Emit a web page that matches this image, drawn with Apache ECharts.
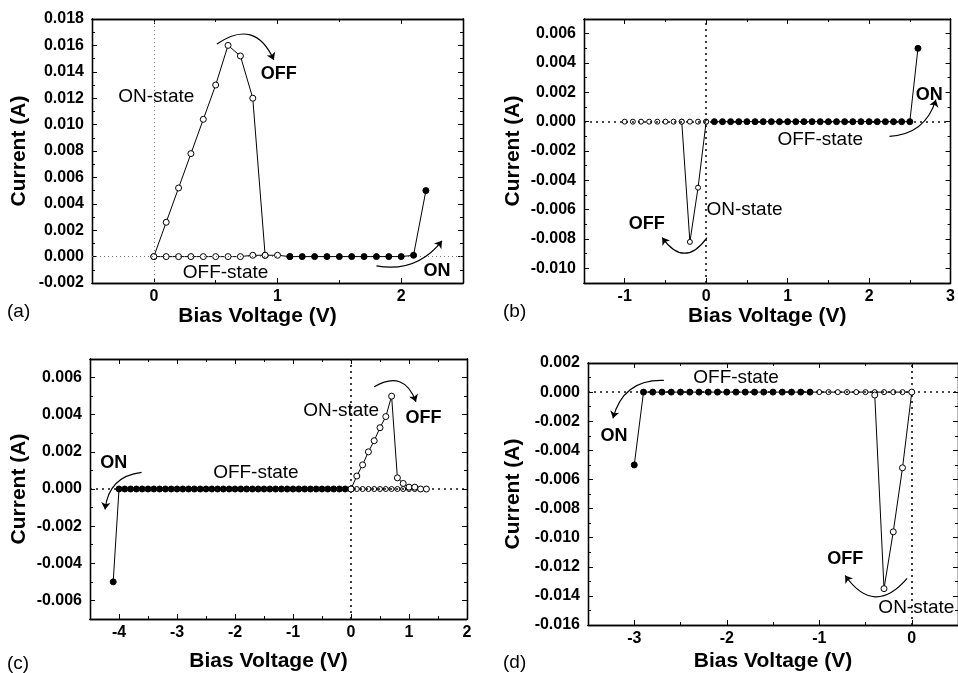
<!DOCTYPE html>
<html>
<head>
  <meta charset="utf-8">
  <title>Bias sweeps (a)-(d)</title>
  <script src="https://cdn.jsdelivr.net/npm/echarts/dist/echarts.min.js"></script>
  <style>
    html, body { margin: 0; padding: 0; background: #fff; }
    #chart { width: 958px; height: 673px; }
  </style>
</head>
<body>
  <div id="chart"></div>
  <script>
    // ---- panel (a) ----
    const aOnV = [0, 0.1, 0.2, 0.3, 0.4, 0.5, 0.6, 0.7, 0.8, 0.9];
    const aOnI = [0, 0.0026, 0.0052, 0.0078, 0.0104, 0.0130, 0.0160, 0.0152, 0.0120, 0.0001];
    // the sweep continues into the first filled point, which is drawn over it
    const aOffOpenV = [0, 0.1, 0.2, 0.3, 0.4, 0.5, 0.6, 0.7, 0.8, 0.9, 1.0, 1.1];
    const aOffOpenI = [0, 0, 0, 0, 0, 0, 0, 0, 0.0001, 0.0001, 0.0001, 0];
    const aOffFillV = [1.1, 1.2, 1.3, 1.4, 1.5, 1.6, 1.7, 1.8, 1.9, 2.0, 2.1, 2.2];
    const aOffFillI = [0, 0, 0, 0, 0, 0, 0, 0, 0, 0, 0.0001, 0.0050];
    const aXTicks = [0, 1, 2];
    const aXMinor = [0.5, 1.5];
    const aYTicks = [-0.002, 0, 0.002, 0.004, 0.006, 0.008, 0.010, 0.012, 0.014, 0.016, 0.018];
    const aYMinor = [-0.001, 0.001, 0.003, 0.005, 0.007, 0.009, 0.011, 0.013, 0.015, 0.017];
    const aNotes = [[0.02, 0.0121, 'ON-state', 'normal'], [1.01, 0.0138, 'OFF', 'bold'],
                    [0.58, -0.0012, 'OFF-state', 'normal'], [2.29, -0.0011, 'ON', 'bold']];
    const aArrows = [[0.51, 0.0161, 0.97, 0.0149, 0.6], [1.80, -0.0007, 2.33, 0.0012, -0.3]];

    // ---- panel (b) ----
    const bOnV = [0, -0.1, -0.2, -0.3];
    const bOnI = [0, -0.0045, -0.0082, 0];
    const bOffOpenV = [-1.0, -0.9, -0.8, -0.7, -0.6, -0.5, -0.4, -0.3, -0.2, -0.1, 0];
    const bOffOpenI = [0, 0, 0, 0, 0, 0, 0, 0, 0, 0, 0];
    const bOffFillV = [0.1, 0.2, 0.3, 0.4, 0.5, 0.6, 0.7, 0.8, 0.9, 1.0, 1.1, 1.2, 1.3,
                       1.4, 1.5, 1.6, 1.7, 1.8, 1.9, 2.0, 2.1, 2.2, 2.3, 2.4, 2.5, 2.6];
    const bOffFillI = [0, 0, 0, 0, 0, 0, 0, 0, 0, 0, 0, 0, 0,
                       0, 0, 0, 0, 0, 0, 0, 0, 0, 0, 0, 0, 0.0050];
    const bXTicks = [-1, 0, 1, 2, 3];
    const bXMinor = [-0.5, 0.5, 1.5, 2.5];
    const bYTicks = [-0.010, -0.008, -0.006, -0.004, -0.002, 0, 0.002, 0.004, 0.006];
    const bYMinor = [-0.011, -0.009, -0.007, -0.005, -0.003, -0.001, 0.001, 0.003, 0.005, 0.007];
    const bNotes = [[2.74, 0.0018, 'ON', 'bold'], [1.40, -0.00125, 'OFF-state', 'normal'],
                    [0.47, -0.0060, 'ON-state', 'normal'], [-0.73, -0.0070, 'OFF', 'bold']];
    const bArrows = [[2.25, -0.0010, 2.82, 0.0015, -0.35], [0.01, -0.0079, -0.54, -0.0079, 0.7]];

    // ---- panel (c) ----
    const cOffFillV = [-4.1, -4.0, -3.9, -3.8, -3.7, -3.6, -3.5, -3.4, -3.3, -3.2, -3.1, -3.0,
                       -2.9, -2.8, -2.7, -2.6, -2.5, -2.4, -2.3, -2.2, -2.1, -2.0,
                       -1.9, -1.8, -1.7, -1.6, -1.5, -1.4, -1.3, -1.2, -1.1, -1.0,
                       -0.9, -0.8, -0.7, -0.6, -0.5, -0.4, -0.3, -0.2, -0.1, 0];
    const cOffFillI = [-0.0050, 0, 0, 0, 0, 0, 0, 0, 0, 0, 0, 0,
                       0, 0, 0, 0, 0, 0, 0, 0, 0, 0,
                       0, 0, 0, 0, 0, 0, 0, 0, 0, 0,
                       0, 0, 0, 0, 0, 0, 0, 0, 0, 0];
    const cOnV = [0, 0.1, 0.2, 0.3, 0.4, 0.5, 0.6, 0.7, 0.8, 0.9, 1.0, 1.1, 1.2, 1.3];
    const cOnI = [0, 0.0007, 0.0013, 0.0020, 0.0026, 0.0033, 0.0039, 0.0050, 0.0006, 0.0003, 0.0001, 0.0001, 0, 0];
    const cOffOpenV = [0, 0.1, 0.2, 0.3, 0.4, 0.5, 0.6, 0.7, 0.8, 0.9, 1.0, 1.1, 1.2, 1.3];
    const cOffOpenI = [0, 0, 0, 0, 0, 0, 0, 0, 0, 0, 0, 0, 0, 0];
    const cXTicks = [-4, -3, -2, -1, 0, 1, 2];
    const cXMinor = [-3.5, -2.5, -1.5, -0.5, 0.5, 1.5];
    const cYTicks = [-0.006, -0.004, -0.002, 0, 0.002, 0.004, 0.006];
    const cYMinor = [-0.005, -0.003, -0.001, 0.001, 0.003, 0.005];
    const cNotes = [[-0.17, 0.0042, 'ON-state', 'normal'], [1.25, 0.0038, 'OFF', 'bold'],
                    [-4.09, 0.0014, 'ON', 'bold'], [-1.64, 0.0009, 'OFF-state', 'normal']];
    const cArrows = [[0.40, 0.0055, 1.12, 0.0047, 0.6], [-3.61, 0.0009, -4.24, -0.0011, -0.4]];

    // ---- panel (d) ----
    const dOffFillV = [-3.0, -2.9, -2.8, -2.7, -2.6, -2.5, -2.4, -2.3, -2.2, -2.1, -2.0,
                       -1.9, -1.8, -1.7, -1.6, -1.5, -1.4, -1.3, -1.2, -1.1];
    const dOffFillI = [-0.0050, 0, 0, 0, 0, 0, 0, 0, 0, 0, 0,
                       0, 0, 0, 0, 0, 0, 0, 0, 0];
    // starts at the last filled point so the sweep stays joined
    const dOffOpenV = [-1.1, -1.0, -0.9, -0.8, -0.7, -0.6, -0.5, -0.4, -0.3, -0.2, -0.1, 0];
    const dOffOpenI = [0, 0, 0, 0, 0, 0, 0, 0, 0, 0, 0, 0];
    const dOnV = [0, -0.1, -0.2, -0.3, -0.4];
    const dOnI = [0, -0.0052, -0.0096, -0.0135, -0.0002];
    const dXTicks = [-3, -2, -1, 0];
    const dXMinor = [-2.5, -1.5, -0.5];
    const dYTicks = [-0.016, -0.014, -0.012, -0.010, -0.008, -0.006, -0.004, -0.002, 0, 0.002];
    const dYMinor = [-0.015, -0.013, -0.011, -0.009, -0.007, -0.005, -0.003, -0.001, 0.001];
    const dNotes = [[-1.90, 0.0010, 'OFF-state', 'normal'], [-3.22, -0.0030, 'ON', 'bold'],
                    [-0.72, -0.0115, 'OFF', 'bold'], [0.05, -0.0148, 'ON-state', 'normal']];
    const dArrows = [[-2.68, 0.0008, -3.23, -0.0018, -0.4], [-0.05, -0.0128, -0.72, -0.0126, 0.64]];

    const FONT = '"Liberation Sans", Arial, sans-serif';
    const pair = (v, c) => v.map((x, k) => [x, c[k]]);

    const dottedThin = { color: '#777', width: 1, type: [1, 3] };
    const dottedBold = { color: '#111', width: 1.6, type: [2, 4] };

    const panels = [
      { grid: { left: 92, top: 19, width: 371, height: 264 },
        xRange: [-0.5, 2.5], yRange: [-0.002, 0.018],
        xTicks: aXTicks, xMinor: aXMinor, yTicks: aYTicks, yMinor: aYMinor,
        xNameGap: 21, xShift: 40, yNameGap: 62, ref: dottedThin,
        curves: [
          { d: pair(aOnV, aOnI), open: true, size: 6 },
          { d: pair(aOffOpenV, aOffOpenI), open: true, size: 6 },
          { d: pair(aOffFillV, aOffFillI), open: false, size: 6 }
        ], notes: aNotes, arrows: aArrows },
      { grid: { left: 584, top: 19, width: 377, height: 264 },
        xRange: [-1.5, 3], yRange: [-0.011, 0.007],
        xTicks: bXTicks, xMinor: bXMinor, yTicks: bYTicks, yMinor: bYMinor,
        xNameGap: 21, xShift: 0, yNameGap: 60, ref: dottedBold,
        curves: [
          { d: pair(bOffOpenV, bOffOpenI), open: true, size: 5, scatter: true },
          { d: pair(bOnV, bOnI), open: true, size: 5 },
          { d: pair(bOffFillV, bOffFillI), open: false, size: 6 }
        ], notes: bNotes, arrows: bArrows },
      { grid: { left: 90, top: 359, width: 377, height: 263 },
        xRange: [-4.5, 2], yRange: [-0.007, 0.007],
        xTicks: cXTicks, xMinor: cXMinor, yTicks: cYTicks, yMinor: cYMinor,
        xNameGap: 32, xShift: 20, yNameGap: 60, ref: dottedBold,
        curves: [
          { d: pair(cOffFillV, cOffFillI), open: false, size: 6 },
          { d: pair(cOffOpenV, cOffOpenI), open: true, size: 5 },
          { d: pair(cOnV, cOnI), open: true, size: 6 }
        ], notes: cNotes, arrows: cArrows },
      { grid: { left: 588, top: 363, width: 376, height: 264 },
        xRange: [-3.5, 0.5], yRange: [-0.016, 0.002],
        xTicks: dXTicks, xMinor: dXMinor, yTicks: dYTicks, yMinor: dYMinor,
        xNameGap: 26, xShift: 0, yNameGap: 64, ref: dottedBold,
        curves: [
          { d: pair(dOffOpenV, dOffOpenI), open: true, size: 5 },
          { d: pair(dOffFillV, dOffFillI), open: false, size: 6 },
          { d: pair(dOnV, dOnI), open: true, size: 6 }
        ], notes: dNotes, arrows: dArrows }
    ];

    const grids = [], xAxes = [], yAxes = [], series = [];
    const lineCol = { color: '#000', width: 1.3 };
    const tickLabel = { color: '#000', fontFamily: FONT, fontWeight: 'bold', fontSize: 16 };
    const nameStyle = { color: '#000', fontFamily: FONT, fontWeight: 'bold', fontSize: 21 };

    panels.forEach((p, i) => {
      grids.push(Object.assign({ containLabel: false }, p.grid));

      // bottom/top major, bottom/top minor
      [['bottom', p.xTicks, 5, true], ['top', p.xTicks, 5, false],
       ['bottom', p.xMinor, 3, false], ['top', p.xMinor, 3, false]].forEach(([pos, t, len, main]) => {
        xAxes.push({
          type: 'value', gridIndex: i, position: pos, min: p.xRange[0], max: p.xRange[1],
          splitLine: { show: false },
          axisLine: { show: true, onZero: false, lineStyle: lineCol },
          axisTick: { show: true, inside: true, length: len, customValues: t, lineStyle: { color: '#000', width: 1 } },
          axisLabel: main
            ? Object.assign({ show: true, customValues: t, margin: 6, formatter: v => String(v) }, tickLabel)
            : { show: false },
          name: main ? 'Bias Voltage (V)' : '',
          nameLocation: 'middle', nameGap: p.xNameGap,
          nameTextStyle: Object.assign({ padding: [0, p.xShift, 0, 0] }, nameStyle)
        });
      });

      [['left', p.yTicks, 5, true], ['right', p.yTicks, 5, false],
       ['left', p.yMinor, 3, false], ['right', p.yMinor, 3, false]].forEach(([pos, t, len, main]) => {
        yAxes.push({
          type: 'value', gridIndex: i, position: pos, min: p.yRange[0], max: p.yRange[1],
          splitLine: { show: false },
          axisLine: { show: true, onZero: false, lineStyle: lineCol },
          axisTick: { show: true, inside: true, length: len, customValues: t, lineStyle: { color: '#000', width: 1 } },
          axisLabel: main
            ? Object.assign({ show: true, customValues: t, margin: 8, formatter: v => v.toFixed(3) }, tickLabel)
            : { show: false },
          name: main ? 'Current (A)' : '',
          nameLocation: 'middle', nameGap: p.yNameGap, nameRotate: 90,
          nameTextStyle: nameStyle
        });
      });

      const xi = i * 4, yi = i * 4;

      p.curves.forEach((c, k) => {
        const s = {
          type: c.scatter ? 'scatter' : 'line',
          xAxisIndex: xi, yAxisIndex: yi,
          data: c.d,
          symbol: 'circle', symbolSize: c.size,
          itemStyle: { color: c.open ? '#fff' : '#000', borderColor: '#000', borderWidth: 1, opacity: 1 },
          lineStyle: { color: '#000', width: 1 },
          animation: false, silent: true, z: 3 + k
        };
        if (k === 0) {
          s.markLine = {
            silent: true, symbol: 'none', label: { show: false }, animation: false,
            lineStyle: p.ref, data: [{ xAxis: 0 }, { yAxis: 0 }]
          };
        }
        series.push(s);
      });

      series.push({
        type: 'lines', coordinateSystem: 'cartesian2d', xAxisIndex: xi, yAxisIndex: yi,
        symbol: ['none', 'arrow'], symbolSize: 7, silent: true, animation: false, z: 8,
        lineStyle: { color: '#000', width: 1.2, opacity: 1 },
        data: p.arrows.map(a => ({ coords: [[a[0], a[1]], [a[2], a[3]]], lineStyle: { curveness: a[4] } }))
      });

      series.push({
        type: 'scatter', xAxisIndex: xi, yAxisIndex: yi, symbolSize: 1, silent: true,
        animation: false, z: 9,
        itemStyle: { color: 'rgba(0,0,0,0)', opacity: 1 },
        label: { show: true, position: 'inside', formatter: '{b}', color: '#000', opacity: 1,
                 fontFamily: FONT, fontSize: 19 },
        data: p.notes.map(n => ({ value: [n[0], n[1]], name: n[2],
          label: { fontWeight: n[3], fontSize: n[3] === 'bold' ? 18 : 19 } }))
      });
    });

    const tag = (text, left, top) => ({
      type: 'text', left: left, top: top,
      style: { text: text, fill: '#000', fontFamily: FONT, fontSize: 19 }
    });

    const chart = echarts.init(document.getElementById('chart'));
    chart.setOption({
      backgroundColor: '#fff',
      animation: false,
      grid: grids,
      xAxis: xAxes,
      yAxis: yAxes,
      series: series,
      graphic: [tag('(a)', 7, 302), tag('(b)', 503, 302), tag('(c)', 7, 654), tag('(d)', 503, 653)]
    });
  </script>
</body>
</html>
